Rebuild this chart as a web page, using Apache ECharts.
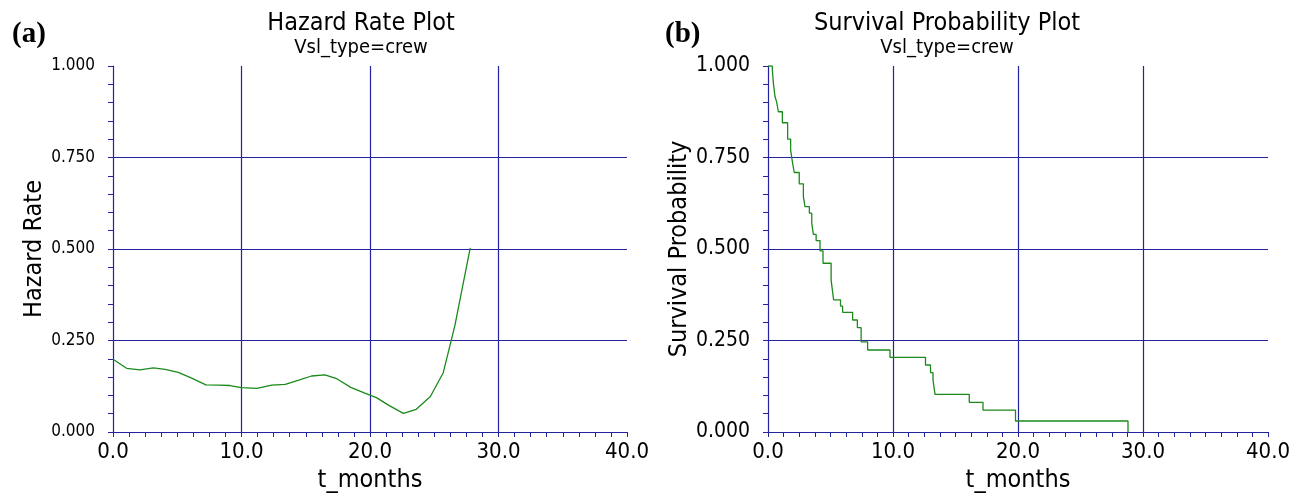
<!DOCTYPE html>
<html>
<head>
<meta charset="utf-8">
<script src="https://cdn.jsdelivr.net/npm/echarts@6/dist/echarts.min.js"></script>
<style>
html,body{margin:0;padding:0;background:#fff;}
#chart{width:1300px;height:495px;}
</style>
</head>
<body>
<div id="chart"></div>
<script>
// ---- Data ----
const hazardT = [0, 1.06, 2.1, 3.14, 4.05, 5.08, 6.12, 7.23, 8.2, 9.1, 10.0, 11.2, 12.35, 13.4, 14.4, 15.45, 16.5, 17.45, 18.5, 19.6, 20.5, 21.5, 22.6, 23.6, 24.7, 25.7, 26.6, 27.8];
const hazardRate = [0.199, 0.174, 0.170, 0.175, 0.171, 0.163, 0.147, 0.129, 0.128, 0.127, 0.121, 0.119, 0.128, 0.130, 0.141, 0.153, 0.156, 0.145, 0.122, 0.106, 0.094, 0.072, 0.051, 0.062, 0.097, 0.162, 0.290, 0.503];
const survT = [0, 0.35, 0.43, 0.56, 0.69, 0.83, 1.15, 1.57, 1.81, 1.97, 2.1, 2.5, 2.83, 2.96, 3.31, 3.5, 3.63, 3.85, 4.16, 4.4, 5.05, 5.15, 5.25, 5.8, 5.97, 6.77, 7.15, 7.45, 7.97, 9.76, 12.6, 13.0, 13.2, 13.36, 16.1, 17.2, 19.8, 28.8];
const survProb = [1.0, 0.989, 0.953, 0.916, 0.902, 0.875, 0.845, 0.800, 0.770, 0.734, 0.709, 0.678, 0.643, 0.616, 0.598, 0.570, 0.540, 0.523, 0.495, 0.461, 0.415, 0.388, 0.361, 0.344, 0.327, 0.306, 0.285, 0.246, 0.224, 0.204, 0.183, 0.162, 0.142, 0.103, 0.081, 0.060, 0.030, 0.0];
const xTicks = {min: 0, max: 40, interval: 10};
const yTicks = {min: 0, max: 1, interval: 0.25};
const panelLabels = ['(a)', '(b)'];
const plotTitles = ['Hazard Rate Plot', 'Survival Probability Plot'];
const subTitle = 'Vsl_type=crew';
const xName = 't_months';
const yNames = ['Hazard Rate', 'Survival Probability'];

// ---- Chart ----
const NAVY = '#2323a0';
const GREEN = '#1b8a1b';
const FONT = '"Liberation Sans Narrow", "Arial Narrow", "DejaVu Sans Condensed", "Liberation Sans", sans-serif';

function xAxis(g) {
  return {
    gridIndex: g, type: 'value', min: xTicks.min, max: xTicks.max, interval: xTicks.interval,
    axisLine: {show: true, onZero: false, lineStyle: {color: NAVY, width: 1.2}},
    axisTick: {show: true, length: 5, lineStyle: {color: NAVY}},
    minorTick: {show: true, splitNumber: 8, length: 5, lineStyle: {color: NAVY}},
    splitLine: {show: true, showMinLine: false, showMaxLine: false, lineStyle: {color: NAVY, width: 1.2}},
    axisLabel: {formatter: v => v.toFixed(1), fontSize: 22, color: '#000', fontFamily: FONT, margin: 9},
    name: xName, nameLocation: 'middle', nameGap: 35,
    nameTextStyle: {fontSize: 25, color: '#000', fontFamily: FONT}
  };
}
function yAxis(g, labelSize, nameGap) {
  return {
    gridIndex: g, type: 'value', min: yTicks.min, max: yTicks.max, interval: yTicks.interval,
    axisLine: {show: true, onZero: false, lineStyle: {color: NAVY, width: 1.2}},
    axisTick: {show: true, length: 5, lineStyle: {color: NAVY}},
    minorTick: {show: true, splitNumber: 5, length: 5, lineStyle: {color: NAVY}},
    splitLine: {show: true, showMinLine: false, showMaxLine: false, lineStyle: {color: NAVY, width: 1.2}},
    axisLabel: {formatter: v => v.toFixed(3), fontSize: labelSize, color: '#000', fontFamily: FONT, margin: 18},
    name: yNames[g], nameLocation: 'middle', nameGap: nameGap,
    nameTextStyle: {fontSize: 25, color: '#000', fontFamily: FONT}
  };
}

const chart = echarts.init(document.getElementById('chart'), null, {renderer: 'canvas'});
chart.setOption({
  backgroundColor: '#fff',
  animation: false,
  title: [
    {text: panelLabels[0], left: 7, top: 15, textStyle: {fontFamily: '"Liberation Serif", serif', fontSize: 29, fontWeight: 'bold', color: '#000'}},
    {text: panelLabels[1], left: 660, top: 15, textStyle: {fontFamily: '"Liberation Serif", serif', fontSize: 29, fontWeight: 'bold', color: '#000'}},
    {text: plotTitles[0], subtext: subTitle, left: 356, textAlign: 'center', top: 6, itemGap: 2,
     textStyle: {fontFamily: FONT, fontSize: 25, fontWeight: 'normal', color: '#000'},
     subtextStyle: {fontFamily: FONT, fontSize: 20, color: '#000'}},
    {text: plotTitles[1], subtext: subTitle, left: 942, textAlign: 'center', top: 6, itemGap: 2,
     textStyle: {fontFamily: FONT, fontSize: 25, fontWeight: 'normal', color: '#000'},
     subtextStyle: {fontFamily: FONT, fontSize: 20, color: '#000'}}
  ],
  grid: [
    {left: 113, top: 66, width: 514, height: 366, outerBoundsMode: 'none', containLabel: false},
    {left: 768, top: 66, width: 500, height: 366, outerBoundsMode: 'none', containLabel: false}
  ],
  xAxis: [xAxis(0), xAxis(1)],
  yAxis: [yAxis(0, 17, 62), yAxis(1, 21, 73)],
  series: [
    {type: 'line', xAxisIndex: 0, yAxisIndex: 0, showSymbol: false, symbol: 'none',
     data: hazardT.map((t, i) => [t, hazardRate[i]]),
     lineStyle: {color: GREEN, width: 1.3}, itemStyle: {color: GREEN}},
    {type: 'line', xAxisIndex: 1, yAxisIndex: 1, showSymbol: false, symbol: 'none', step: 'end',
     data: survT.map((t, i) => [t, survProb[i]]),
     lineStyle: {color: GREEN, width: 1.3}, itemStyle: {color: GREEN}}
  ]
});
</script>
</body>
</html>
